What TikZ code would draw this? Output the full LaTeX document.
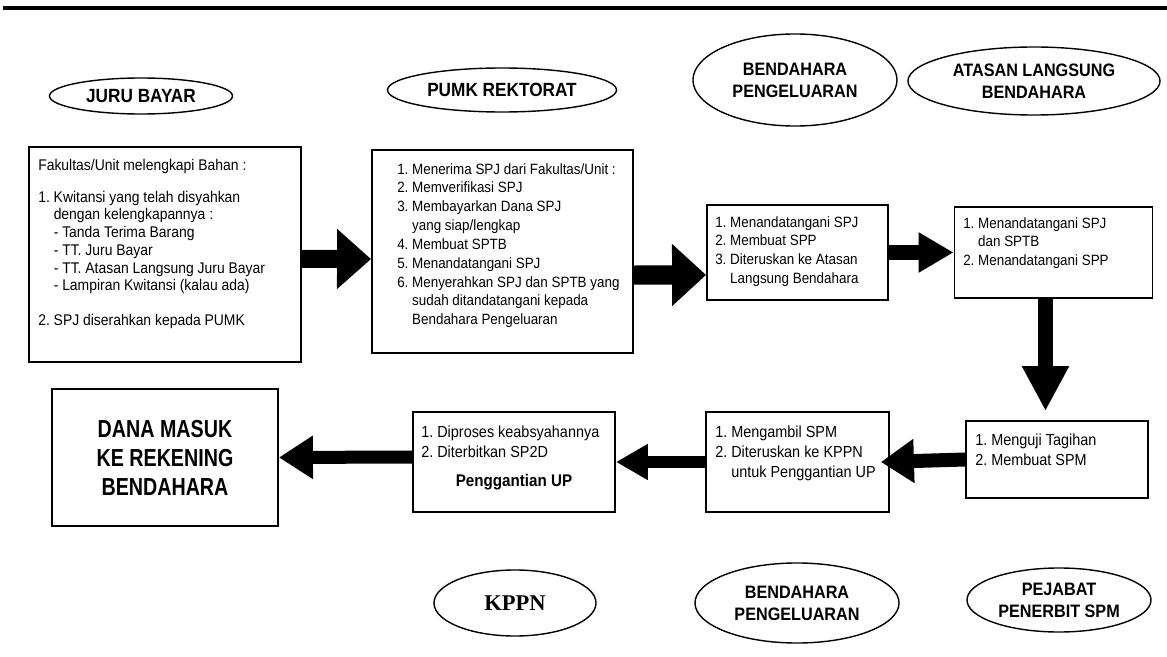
\documentclass[tikz,border=0pt]{standalone}
\usepackage{fontspec}
\setmainfont{Liberation Sans}[FakeStretch=0.9]
\newfontfamily\narrowfont{Liberation Sans}[FakeStretch=0.8]
\newfontfamily\kppnfont{Liberation Serif}
\usetikzlibrary{arrows.meta,positioning,shapes.geometric}
\frenchspacing

\begin{document}
\begin{tikzpicture}[x=0.025cm, y=-0.025cm,
  actor/.style={ellipse, draw, line width=1pt, inner sep=0pt, align=center,
                font=\bfseries\fontsize{12.8}{15.6}\selectfont},
  bigactor/.style={actor, font=\bfseries\fontsize{13.6}{16}\selectfont},
  stepbox/.style={rectangle, draw, line width=1.3pt, inner sep=0pt},
  txt/.style={anchor=north west, inner sep=0pt, align=left,
              font=\fontsize{11}{12.6}\selectfont},
  txtm/.style={txt, font=\fontsize{10.6}{13.4}\selectfont},
  txtb/.style={anchor=north west, inner sep=0pt, align=left,
               font=\fontsize{11.4}{14.2}\selectfont},
  blk/.style n args={3}{line width=#1, -{Triangle[length=#2,width=#3]}}
]
\useasboundingbox (0,0) rectangle (1167,657);
% top rule
\fill (3,6) rectangle (1167,10.5);

% actors, top row
\node[bigactor, minimum width=4.575cm, minimum height=0.9cm] (jb)   at (141,96)  {JURU BAYAR};
\node[bigactor, minimum width=5.725cm, minimum height=1.1cm] (pumk) at (502,90)  {PUMK REKTORAT};
\node[actor, minimum width=5.1cm,   minimum height=2.3cm] (bp1)  at (795,80)  {BENDAHARA\\PENGELUARAN};
\node[actor, minimum width=6.3cm,   minimum height=1.7cm] (alb)  at (1034,81) {ATASAN LANGSUNG\\BENDAHARA};

% boxes, top row
\node[stepbox, minimum width=6.8cm,   minimum height=5.375cm] (b1) at (165,254.5)  {};
\node[stepbox, minimum width=6.525cm, minimum height=5.075cm] (b2) at (502.5,251.5) {};
\node[stepbox, minimum width=4.525cm, minimum height=2.375cm] (b3) at (797.5,252.5) {};
\node[stepbox, minimum width=4.95cm,  minimum height=2.275cm] (b4) at (1053.5,252.5) {};

\node[txt] (t1) at (38,159) {Fakultas/Unit melengkapi Bahan :\\[10pt]
  1. Kwitansi yang telah disyahkan\\
  \hphantom{1. }dengan kelengkapannya :\\
  \hphantom{1. }- Tanda Terima Barang\\
  \hphantom{1. }- TT. Juru Bayar\\
  \hphantom{1. }- TT. Atasan Langsung Juru Bayar\\
  \hphantom{1. }- Lampiran Kwitansi (kalau ada)\\[12pt]
  2. SPJ diserahkan kepada PUMK};
\node[txtm] (t2) at (397,163) {1. Menerima SPJ dari Fakultas/Unit :\\
  2. Memverifikasi SPJ\\
  3. Membayarkan Dana SPJ\\
  \hphantom{3. }yang siap/lengkap\\
  4. Membuat SPTB\\
  5. Menandatangani SPJ\\
  6. Menyerahkan SPJ dan SPTB yang\\
  \hphantom{6. }sudah ditandatangani kepada\\
  \hphantom{6. }Bendahara Pengeluaran};
\node[txtm] (t3) at (715,216) {1. Menandatangani SPJ\\
  2. Membuat SPP\\
  3. Diteruskan ke Atasan\\
  \hphantom{3. }Langsung Bendahara};
\node[txtm] (t4) at (963,217) {1. Menandatangani SPJ\\
  \hphantom{1. }dan SPTB\\
  2. Menandatangani SPP};

% boxes, bottom row
\node[stepbox, minimum width=4.55cm,  minimum height=1.925cm] (pn) at (1057,459.5) {};
\node[stepbox, minimum width=4.575cm, minimum height=2.5cm]   (bd) at (797.5,462) {};
\node[stepbox, minimum width=5.05cm,  minimum height=2.5cm]   (kp) at (514,462) {};
\node[stepbox, minimum width=5.65cm,  minimum height=3.425cm, align=center,
      font=\narrowfont\bfseries\fontsize{17.5}{20.6}\selectfont] (dm) at (165,457.5)
  {DANA MASUK\\KE REKENING\\BENDAHARA};

\node[txtb] (t5) at (975,434) {1. Menguji Tagihan\\2. Membuat SPM};
\node[txtb] (t6) at (715,426) {1. Mengambil SPM\\
  2. Diteruskan ke KPPN\\
  \hphantom{2. }untuk Penggantian UP};
\node[txtb] (t7) at (421,426) {1. Diproses keabsyahannya\\2. Diterbitkan SP2D};
\node[font=\bfseries\fontsize{12}{14}\selectfont] (pu) at (514,482) {Penggantian UP};

% actors, bottom row
\node[actor, minimum width=4.05cm, minimum height=1.65cm,
      font=\kppnfont\bfseries\fontsize{16}{18}\selectfont] (kppn) at (515,603) {KPPN};
\node[actor, minimum width=5.1cm,  minimum height=2.0cm] (bp2) at (797,603)  {BENDAHARA\\PENGELUARAN};
\node[actor, minimum width=4.6cm,  minimum height=1.6cm] (pj)  at (1059,600) {PEJABAT\\PENERBIT SPM};

% flow
\draw[blk={0.45cm}{0.85cm}{1.45cm}] ([yshift=-0.11cm]b1.east) -- ([yshift=-0.19cm]b2.west);
\draw[blk={0.48cm}{0.85cm}{1.5cm}] ([yshift=-0.59cm]b2.east) -- ([yshift=-0.56cm]b3.west);
\draw[blk={0.375cm}{0.875cm}{0.95cm}] (b3.east) -- (b4.west);
\draw[blk={0.375cm}{1.125cm}{1.1cm}] ([xshift=-0.2cm]b4.south) -- ([xshift=-0.2cm,yshift=0.225cm]b4.south |- pn.north);
\draw[blk={0.35cm}{0.825cm}{1.05cm}] (pn.west) -- ([xshift=-0.225cm]bd.east);
\draw[blk={0.3cm}{0.8cm}{0.85cm}] (bd.west) -- (kp.east);
\draw[blk={0.325cm}{0.85cm}{1.03cm}] ([yshift=0.125cm]kp.west) -- (dm.east);
\end{tikzpicture}
\end{document}
